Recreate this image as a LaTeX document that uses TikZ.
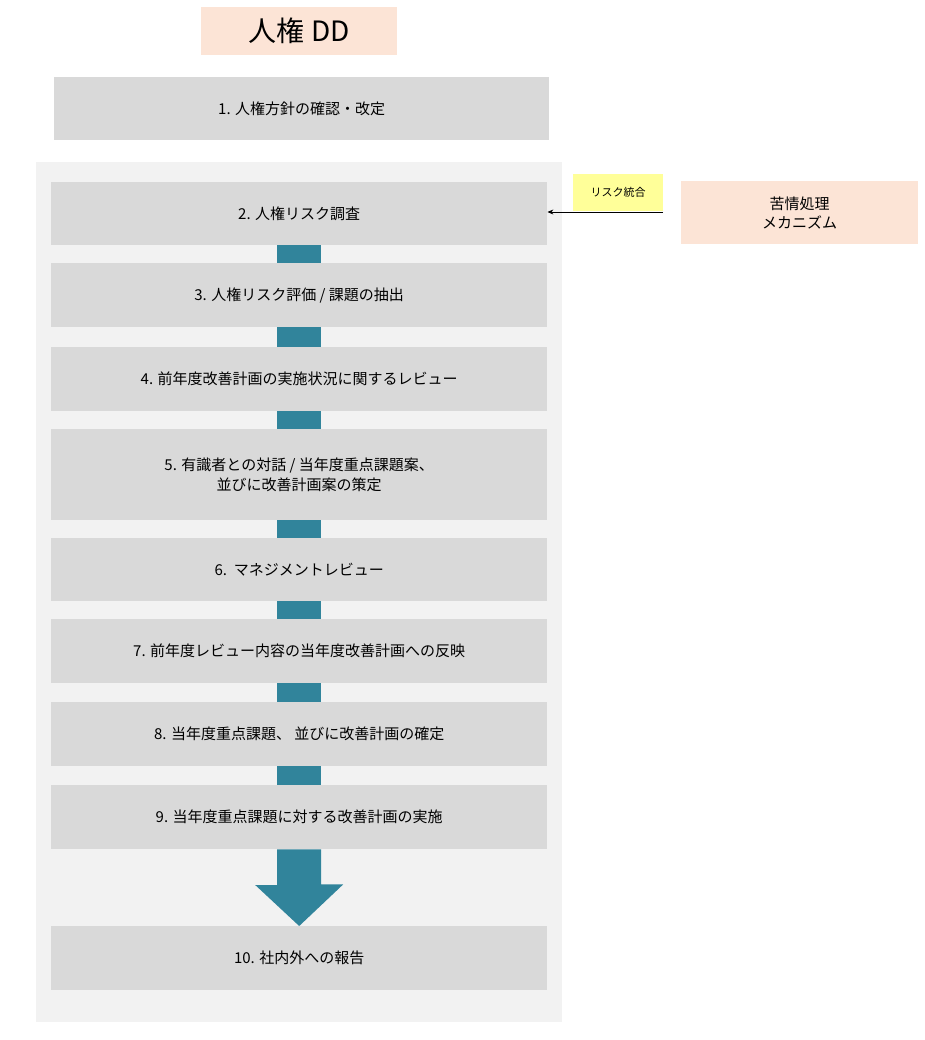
\documentclass[tikz,border=0pt]{standalone}
\usepackage{fontspec}
\setmainfont{Noto Sans CJK JP}
\usetikzlibrary{arrows.meta}
\definecolor{gbox}{HTML}{D9D9D9}
\definecolor{panel}{HTML}{F2F2F2}
\definecolor{peach}{HTML}{FCE4D6}
\definecolor{teal}{HTML}{31849B}
\definecolor{yel}{HTML}{FFFF99}
\begin{document}
\begin{tikzpicture}[x=1pt,y=-1pt,
  stepbox/.style={fill=gbox,minimum width=496pt,inner sep=0pt,font=\fontsize{15}{20}\selectfont,align=center,anchor=north west},
  link/.style={fill=teal,draw=none}]
\useasboundingbox (0,0) rectangle (925,1040);
\fill[panel] (36,162) rectangle (562,1022);
\node[fill=peach,minimum width=196pt,minimum height=48pt,inner sep=0pt,font=\fontsize{28}{32}\selectfont,anchor=north west] (t) at (201,7) {人権 DD};
\node[stepbox,minimum width=495pt,minimum height=63pt] (b1) at (54,77) {1. 人権方針の確認・改定};
\node[stepbox,minimum height=63pt] (b2) at (51,182) {2. 人権リスク調査};
\node[stepbox,minimum height=64pt] (b3) at (51,263) {3. 人権リスク評価 / 課題の抽出};
\node[stepbox,minimum height=64pt] (b4) at (51,347) {4. 前年度改善計画の実施状況に関するレビュー};
\node[stepbox,minimum height=91pt] (b5) at (51,429) {5. 有識者との対話 / 当年度重点課題案、\\並びに改善計画案の策定};
\node[stepbox,minimum height=63pt] (b6) at (51,538) {6.\ \ マネジメントレビュー};
\node[stepbox,minimum height=64pt] (b7) at (51,619) {7. 前年度レビュー内容の当年度改善計画への反映};
\node[stepbox,minimum height=64pt] (b8) at (51,702) {8. 当年度重点課題、 並びに改善計画の確定};
\node[stepbox,minimum height=64pt] (b9) at (51,785) {9. 当年度重点課題に対する改善計画の実施};
\node[stepbox,minimum height=64pt] (b10) at (51,926) {10. 社内外への報告};
\foreach \a/\b in {b2/b3,b3/b4,b4/b5,b5/b6,b6/b7,b7/b8,b8/b9}{
  \fill[link] ([xshift=-22pt]\a.south) rectangle ([xshift=22pt]\b.north);
}
\fill[link] ([xshift=-22pt]b9.south) -- ([xshift=22pt]b9.south) -- ++(0,35) -- ++(22,0) -- (b10.north) -- ++(-44,-41) -- ++(22,0) -- cycle;
\node[fill=peach,minimum width=237pt,minimum height=63pt,inner sep=0pt,align=center,font=\fontsize{15}{19}\selectfont,anchor=north west] (c) at (681,181) {苦情処理\\メカニズム};
\node[fill=yel,minimum width=90pt,minimum height=37pt,inner sep=0pt,font=\fontsize{11}{13}\selectfont,anchor=north west] (r) at (573,174) {リスク統合};
\coordinate (s) at (663,212);
\draw[-{Stealth[length=6pt,width=5pt]},line width=0.8pt] (s) -- (b2.east |- s);
\end{tikzpicture}
\end{document}
